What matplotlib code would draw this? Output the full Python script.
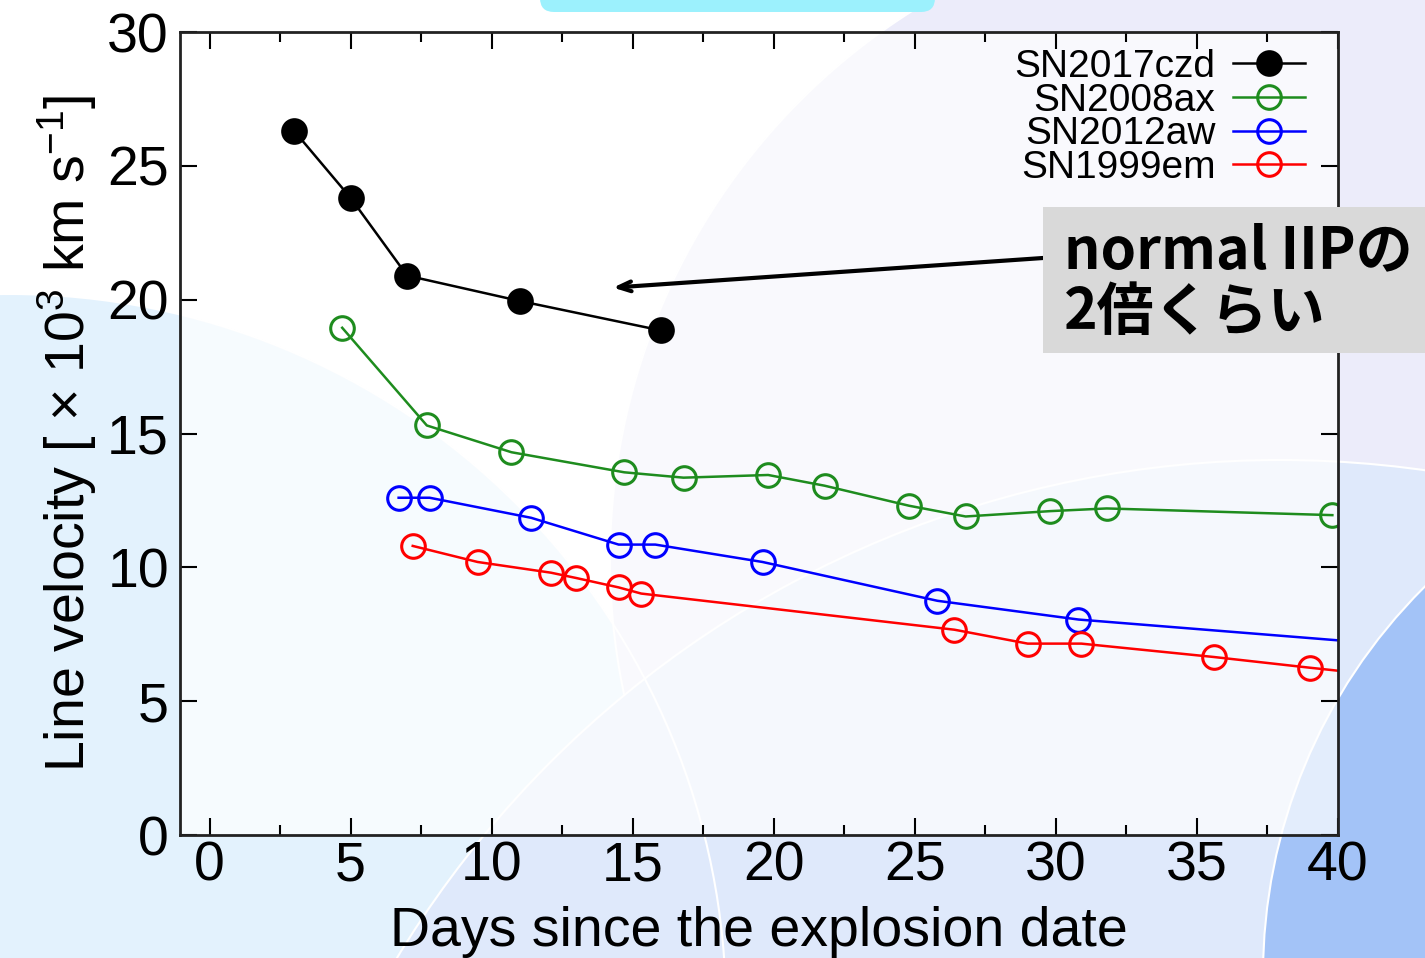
import matplotlib
matplotlib.use('Agg')
import matplotlib.pyplot as plt
from matplotlib.patches import Circle, FancyBboxPatch, Rectangle
from matplotlib.ticker import MultipleLocator

plt.rcParams['font.family'] = ['Liberation Sans', 'DejaVu Sans']
plt.rcParams['mathtext.fontset'] = 'custom'
plt.rcParams['mathtext.rm'] = 'Liberation Sans'
plt.rcParams['mathtext.it'] = 'Liberation Sans'

# days since explosion / line velocity (10^3 km/s)
czd_days = [3.0, 5.0, 7.0, 11.0, 16.0]
czd_vel = [26.3, 23.8, 20.9, 19.95, 18.85]

ax08_days = [4.7, 7.7, 10.7, 14.7, 16.8, 19.8, 21.8, 24.8, 26.8, 29.8, 31.8, 39.8]
ax08_vel = [18.95, 15.3, 14.3, 13.55, 13.35, 13.45, 13.05, 12.3, 11.9, 12.1, 12.2, 11.95]

aw12_days = [6.7, 7.8, 11.4, 14.5, 15.8, 19.6, 25.8, 30.8, 45.0]
aw12_vel = [12.6, 12.6, 11.85, 10.85, 10.85, 10.2, 8.75, 8.05, 6.85]

em99_days = [7.2, 9.5, 12.1, 13.0, 14.5, 15.3, 26.4, 29.0, 30.9, 35.6, 39.0, 43.0]
em99_vel = [10.8, 10.2, 9.8, 9.6, 9.25, 9.02, 7.67, 7.15, 7.15, 6.65, 6.25, 5.8]

series = [
    ('SN2017czd', czd_days, czd_vel, 'black', 'black'),
    ('SN2008ax', ax08_days, ax08_vel, '#1e8c1e', 'none'),
    ('SN2012aw', aw12_days, aw12_vel, '#0000ff', 'none'),
    ('SN1999em', em99_days, em99_vel, '#ff0000', 'none'),
]

fig = plt.figure(figsize=(14.25, 9.58), dpi=100)
fig.patch.set_facecolor('white')

# slide background drawn in pixel coordinates
bg = fig.add_axes([0, 0, 1, 1], zorder=-5)
bg.set_xlim(0, 1425)
bg.set_ylim(958, 0)
bg.axis('off')
bg.add_patch(Circle((10, 1010), 716, fc='#e3f2fd', ec='none'))
bg.add_patch(Circle((1260, 560), 650, fc='#ececfa', ec='white', lw=1.5))
bg.add_patch(Circle((1280, 1492), 1032, fc='#dfe9fb', ec='white', lw=1.5))
bg.add_patch(Circle((10, 1010), 716, fc='none', ec='white', lw=1.5))
bg.add_patch(Circle((1810, 975), 547, fc='#a3c3f7', ec='white', lw=1.5))
bg.add_patch(FancyBboxPatch((540, -30), 395, 42, boxstyle='round,pad=0,rounding_size=14',
                            fc='#9cf1fd', ec='none'))

ax = fig.add_axes([180 / 1425, 1 - 835 / 958, (1338 - 180) / 1425, (835 - 32) / 958])
ax.set_facecolor((1, 1, 1, 0.7))

for name, x, y, c, fc in series:
    ax.plot(x, y, '-o', color=c, mfc=fc, mec=c, ms=17, mew=2.2, lw=1.8, label=name)

ax.set_xlim(-1.05, 40)
ax.set_ylim(0, 30)
ax.xaxis.set_major_locator(MultipleLocator(5))
ax.xaxis.set_minor_locator(MultipleLocator(2.5))
ax.yaxis.set_major_locator(MultipleLocator(5))
ax.tick_params(which='both', direction='in', top=True, right=True, width=1.5,
               labelsize=40, pad=4)
ax.tick_params(axis='y', pad=8)
ax.tick_params(which='major', length=12)
ax.tick_params(which='minor', length=7)
for s in ax.spines.values():
    s.set_linewidth(2)
    s.set_color('#222222')

ax.set_xlabel('Days since the explosion date', fontsize=40, labelpad=10)
ax.set_ylabel(r'Line velocity [ $\times$ 10$^3$ km s$^{-1}$]', fontsize=40, labelpad=6)

ax.legend(loc='upper right', bbox_to_anchor=(0.9715, 0.979), markerfirst=False,
          frameon=False, fontsize=28, handlelength=1.85, handletextpad=0.45,
          labelspacing=-0.06, borderaxespad=0, borderpad=0, alignment='right')

# annotation box with arrow
fig.patches.append(Rectangle((1043 / 1425, 1 - 353 / 958), (1425 - 1043) / 1425, (353 - 207) / 958,
                             transform=fig.transFigure, fc='#d9d9d9', ec='none', zorder=5))
note_font = ['Noto Sans CJK JP', 'DejaVu Sans']
fig.text(1064 / 1425, 1 - 268 / 958, 'normal IIPの', fontsize=41, fontweight='bold',
         family=note_font, va='baseline', ha='left', zorder=6)
fig.text(1064 / 1425, 1 - 330 / 958, '2倍くらい', fontsize=41, fontweight='bold',
         family=note_font, va='baseline', ha='left', zorder=6)
ax.annotate('', xy=(14.3, 20.45), xycoords='data',
            xytext=(1043 / 1425, 1 - 258 / 958), textcoords='figure fraction',
            arrowprops=dict(arrowstyle='->,head_length=0.9,head_width=0.35', lw=3, color='black',
                            shrinkA=0, shrinkB=0))

fig.savefig('out.png', dpi=100)
